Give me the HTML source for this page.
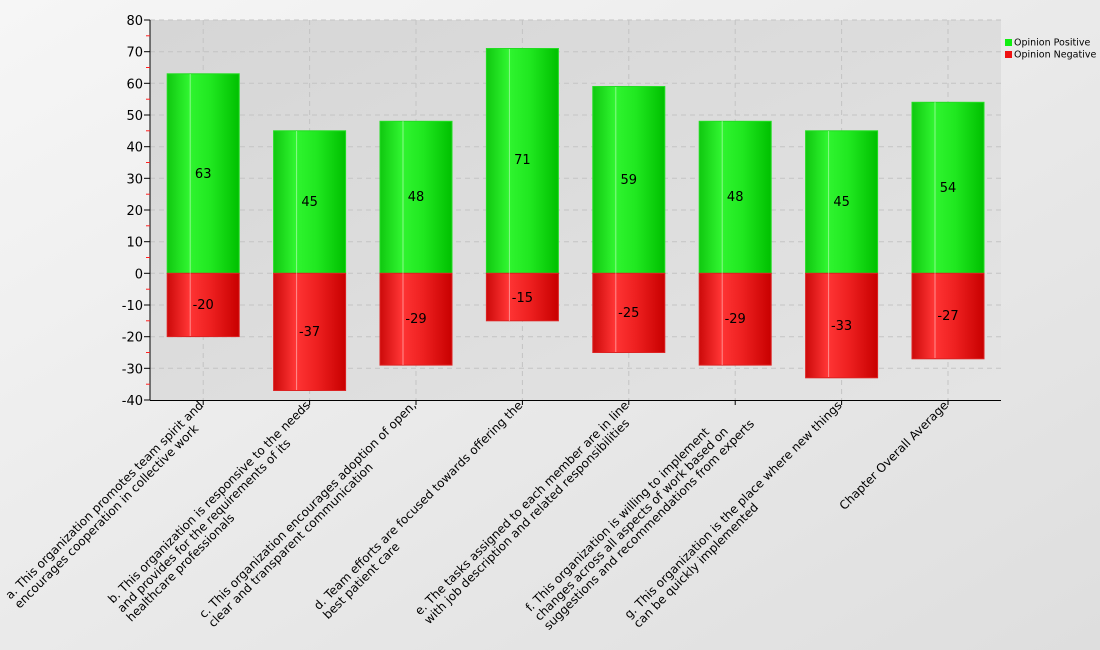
<!DOCTYPE html>
<html><head><meta charset="utf-8"><style>
html,body{margin:0;padding:0;width:1100px;height:650px;overflow:hidden;position:relative}
svg{display:block;font-family:"DejaVu Sans","Liberation Sans",sans-serif}
.l{position:absolute;top:399px;font-family:"DejaVu Sans","Liberation Sans",sans-serif;font-size:12px;line-height:13px;white-space:pre;text-align:left;transform-origin:100% 0;transform:rotate(-45deg);color:#000}
</style></head><body>
<svg width="1100" height="650" viewBox="0 0 1100 650">
<defs>
<linearGradient id="bg" x1="0" y1="0" x2="1" y2="1"><stop offset="0" stop-color="#f6f6f6"/><stop offset="1" stop-color="#dedede"/></linearGradient>
<linearGradient id="pa" x1="0" y1="0" x2="1" y2="1"><stop offset="0" stop-color="#d6d6d6"/><stop offset="1" stop-color="#e4e4e4"/></linearGradient>
<linearGradient id="gg" x1="0" y1="0" x2="1" y2="0"><stop offset="0" stop-color="#10c810"/><stop offset="0.3" stop-color="#30f530"/><stop offset="0.6" stop-color="#20e820"/><stop offset="1" stop-color="#00c000"/></linearGradient>
<linearGradient id="rg" x1="0" y1="0" x2="1" y2="0"><stop offset="0" stop-color="#cc0a0a"/><stop offset="0.3" stop-color="#ff3535"/><stop offset="0.6" stop-color="#ee2020"/><stop offset="1" stop-color="#c80000"/></linearGradient>
</defs>
<rect width="1100" height="650" fill="url(#bg)"/>
<rect x="150" y="20" width="851" height="380" fill="url(#pa)"/>
<g stroke="#c4c4c4" stroke-dasharray="5,4" stroke-width="1">
<line x1="150" x2="1001" y1="20" y2="20"/><line x1="150" x2="1001" y1="51.7" y2="51.7"/><line x1="150" x2="1001" y1="83.3" y2="83.3"/><line x1="150" x2="1001" y1="115" y2="115"/><line x1="150" x2="1001" y1="146.7" y2="146.7"/><line x1="150" x2="1001" y1="178.3" y2="178.3"/><line x1="150" x2="1001" y1="210" y2="210"/><line x1="150" x2="1001" y1="241.7" y2="241.7"/><line x1="150" x2="1001" y1="273.3" y2="273.3"/><line x1="150" x2="1001" y1="305" y2="305"/><line x1="150" x2="1001" y1="336.7" y2="336.7"/><line x1="150" x2="1001" y1="368.3" y2="368.3"/>
<line x1="203.2" x2="203.2" y1="20" y2="400"/><line x1="309.6" x2="309.6" y1="20" y2="400"/><line x1="416" x2="416" y1="20" y2="400"/><line x1="522.4" x2="522.4" y1="20" y2="400"/><line x1="628.8" x2="628.8" y1="20" y2="400"/><line x1="735.2" x2="735.2" y1="20" y2="400"/><line x1="841.6" x2="841.6" y1="20" y2="400"/><line x1="948" x2="948" y1="20" y2="400"/>
</g>
<g stroke-width="1">
<rect x="167.2" y="73.8" width="72" height="199.5" fill="url(#gg)" stroke="#22dd22"/><rect x="167.2" y="273.3" width="72" height="63.3" fill="url(#rg)" stroke="#dd2222"/>
<rect x="273.6" y="130.8" width="72" height="142.5" fill="url(#gg)" stroke="#22dd22"/><rect x="273.6" y="273.3" width="72" height="117.2" fill="url(#rg)" stroke="#dd2222"/>
<rect x="380" y="121.3" width="72" height="152" fill="url(#gg)" stroke="#22dd22"/><rect x="380" y="273.3" width="72" height="91.8" fill="url(#rg)" stroke="#dd2222"/>
<rect x="486.4" y="48.5" width="72" height="224.8" fill="url(#gg)" stroke="#22dd22"/><rect x="486.4" y="273.3" width="72" height="47.5" fill="url(#rg)" stroke="#dd2222"/>
<rect x="592.8" y="86.5" width="72" height="186.8" fill="url(#gg)" stroke="#22dd22"/><rect x="592.8" y="273.3" width="72" height="79.2" fill="url(#rg)" stroke="#dd2222"/>
<rect x="699.2" y="121.3" width="72" height="152" fill="url(#gg)" stroke="#22dd22"/><rect x="699.2" y="273.3" width="72" height="91.8" fill="url(#rg)" stroke="#dd2222"/>
<rect x="805.6" y="130.8" width="72" height="142.5" fill="url(#gg)" stroke="#22dd22"/><rect x="805.6" y="273.3" width="72" height="104.5" fill="url(#rg)" stroke="#dd2222"/>
<rect x="912" y="102.3" width="72" height="171" fill="url(#gg)" stroke="#22dd22"/><rect x="912" y="273.3" width="72" height="85.5" fill="url(#rg)" stroke="#dd2222"/>
</g>
<g stroke="#ffffff" stroke-opacity="0.45">
<line x1="190.2" x2="190.2" y1="74" y2="336"/><line x1="296.6" x2="296.6" y1="131" y2="390"/><line x1="403" x2="403" y1="121" y2="365"/><line x1="509.4" x2="509.4" y1="49" y2="321"/><line x1="615.8" x2="615.8" y1="87" y2="352"/><line x1="722.2" x2="722.2" y1="121" y2="365"/><line x1="828.6" x2="828.6" y1="131" y2="377"/><line x1="935" x2="935" y1="102" y2="358"/>
</g>
<g font-size="13" fill="#000" text-anchor="middle">
<text x="203.2" y="178">63</text><text x="203.2" y="309">-20</text>
<text x="309.6" y="206">45</text><text x="309.6" y="336">-37</text>
<text x="416" y="201">48</text><text x="416" y="323">-29</text>
<text x="522.4" y="164">71</text><text x="522.4" y="302">-15</text>
<text x="628.8" y="184">59</text><text x="628.8" y="317">-25</text>
<text x="735.2" y="201">48</text><text x="735.2" y="323">-29</text>
<text x="841.6" y="206">45</text><text x="841.6" y="330">-33</text>
<text x="948" y="192">54</text><text x="948" y="320">-27</text>
</g>
<g stroke="#000" stroke-width="1">
<line x1="150" x2="150" y1="20" y2="400"/><line x1="150" x2="1001" y1="400.5" y2="400.5"/>
<line x1="144" x2="150" y1="20" y2="20"/><line x1="144" x2="150" y1="51.7" y2="51.7"/><line x1="144" x2="150" y1="83.3" y2="83.3"/><line x1="144" x2="150" y1="115" y2="115"/><line x1="144" x2="150" y1="146.7" y2="146.7"/><line x1="144" x2="150" y1="178.3" y2="178.3"/><line x1="144" x2="150" y1="210" y2="210"/><line x1="144" x2="150" y1="241.7" y2="241.7"/><line x1="144" x2="150" y1="273.3" y2="273.3"/><line x1="144" x2="150" y1="305" y2="305"/><line x1="144" x2="150" y1="336.7" y2="336.7"/><line x1="144" x2="150" y1="368.3" y2="368.3"/><line x1="144" x2="150" y1="400" y2="400"/>
<line x1="203.2" x2="203.2" y1="400" y2="405"/><line x1="309.6" x2="309.6" y1="400" y2="405"/><line x1="416" x2="416" y1="400" y2="405"/><line x1="522.4" x2="522.4" y1="400" y2="405"/><line x1="628.8" x2="628.8" y1="400" y2="405"/><line x1="735.2" x2="735.2" y1="400" y2="405"/><line x1="841.6" x2="841.6" y1="400" y2="405"/><line x1="948" x2="948" y1="400" y2="405"/>
</g>
<g stroke="#ff2020" stroke-width="1">
<line x1="146" x2="150" y1="35.8" y2="35.8"/><line x1="146" x2="150" y1="67.5" y2="67.5"/><line x1="146" x2="150" y1="99.2" y2="99.2"/><line x1="146" x2="150" y1="130.8" y2="130.8"/><line x1="146" x2="150" y1="162.5" y2="162.5"/><line x1="146" x2="150" y1="194.2" y2="194.2"/><line x1="146" x2="150" y1="225.8" y2="225.8"/><line x1="146" x2="150" y1="257.5" y2="257.5"/><line x1="146" x2="150" y1="289.2" y2="289.2"/><line x1="146" x2="150" y1="320.8" y2="320.8"/><line x1="146" x2="150" y1="352.5" y2="352.5"/><line x1="146" x2="150" y1="384.2" y2="384.2"/>
</g>
<g font-size="13" fill="#000" text-anchor="end">
<text x="143" y="25">80</text><text x="143" y="56.7">70</text><text x="143" y="88.3">60</text><text x="143" y="120">50</text><text x="143" y="151.7">40</text><text x="143" y="183.3">30</text><text x="143" y="215">20</text><text x="143" y="246.7">10</text><text x="143" y="278.3">0</text><text x="143" y="310">-10</text><text x="143" y="341.7">-20</text><text x="143" y="373.3">-30</text><text x="143" y="405">-40</text>
</g>
<rect x="1005" y="39" width="7" height="7" fill="#11ee11"/>
<rect x="1005" y="51" width="7" height="7" fill="#ee1111"/>
<g font-size="9.5" fill="#000"><text x="1014" y="45.5">Opinion Positive</text><text x="1014" y="57.5">Opinion Negative</text></g>
</svg>
<div class="l" style="right:902.8px">a. This organization promotes team spirit and
encourages cooperation in collective work</div>
<div class="l" style="right:796.4px">b. This organization is responsive to the needs
and provides for the requirements of its
healthcare professionals</div>
<div class="l" style="right:690px">c. This organization encourages adoption of open,
clear and transparent communication</div>
<div class="l" style="right:583.6px">d. Team efforts are focused towards offering the
best patient care</div>
<div class="l" style="right:477.2px">e. The tasks assigned to each member are in line
with job description and related responsibilities</div>
<div class="l" style="right:370.8px">f. This organization is willing to implement
changes across all aspects of work based on
suggestions and recommendations from experts</div>
<div class="l" style="right:264.4px">g. This organization is the place where new things
can be quickly implemented</div>
<div class="l" style="right:158px">Chapter Overall Average</div>
</body></html>
